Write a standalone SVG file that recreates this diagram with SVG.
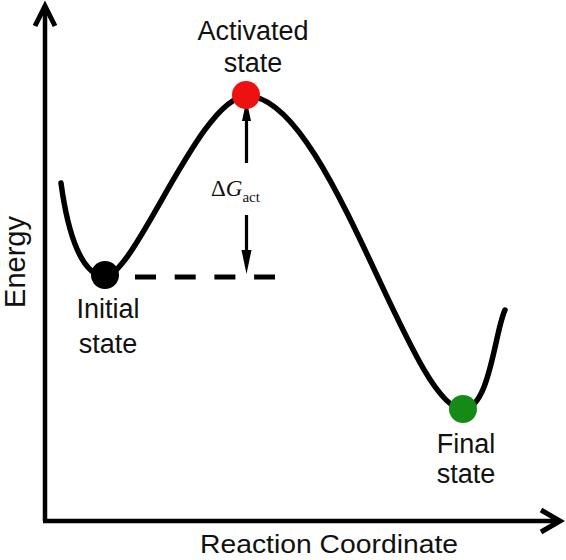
<svg xmlns="http://www.w3.org/2000/svg" width="566" height="560" viewBox="0 0 566 560">
<style>
.ax{fill:none;stroke:#000;stroke-width:4.5;stroke-linecap:butt}
.chev{fill:none;stroke:#000;stroke-width:5;stroke-linejoin:miter;stroke-miterlimit:10}
.curve{fill:none;stroke:#000;stroke-width:5.5;stroke-linecap:round}
.lbl{font-family:"Liberation Sans",Arial,sans-serif;font-size:27px;fill:#111;text-anchor:middle}
.ser{font-family:"Liberation Serif","Times New Roman",serif;fill:#111}
.shaft{stroke:#000;stroke-width:3.2}
.head{fill:#000}
</style>
<rect width="566" height="560" fill="#fff"/>
<g id="axes">
<line class="ax" x1="45" y1="521" x2="45" y2="6"/>
<polyline class="chev" points="35,26 45,6 55,26"/>
<line class="ax" x1="43" y1="521" x2="558" y2="521"/>
<polyline class="chev" points="541,510 560,521 541,532"/>
<text class="lbl" style="font-size:29px" transform="translate(25,262) rotate(-90)">Energy</text>
<text class="lbl" x="329" y="553" style="font-size:25px" textLength="258" lengthAdjust="spacingAndGlyphs">Reaction Coordinate</text>
</g>
<g id="connectors">
<path class="curve" d="M61,183 C68,235 82,276 105,276 C135,276 200,96 247,96 C330,96 410,409 463,409 C490,409 495,330 505,310"/>
<line x1="135" y1="277" x2="275" y2="277" stroke="#000" stroke-width="5" stroke-dasharray="21 18.7"/>
<line class="shaft" x1="246.5" y1="163" x2="246.5" y2="115"/>
<polygon class="head" points="246.5,100 251,121 242,121"/>
<line class="shaft" x1="246.5" y1="215" x2="246.5" y2="255"/>
<polygon class="head" points="246.5,274 251.5,250 241.5,250"/>
</g>
<g id="initial">
<circle cx="105" cy="275" r="14" fill="#000"/>
<text class="lbl" x="108" y="318">Initial</text>
<text class="lbl" x="108" y="353">state</text>
</g>
<g id="activated">
<circle cx="246" cy="95" r="14" fill="#ee1111"/>
<text class="lbl" x="253" y="40">Activated</text>
<text class="lbl" x="253" y="72">state</text>
</g>
<g id="final">
<circle cx="463" cy="409" r="14" fill="#168a16"/>
<text class="lbl" x="466" y="453">Final</text>
<text class="lbl" x="466" y="483">state</text>
</g>
<g id="delta">
<text class="ser" x="211" y="196" font-size="23">Δ<tspan font-style="italic">G</tspan><tspan font-size="15" dy="6">act</tspan></text>
</g>
</svg>
